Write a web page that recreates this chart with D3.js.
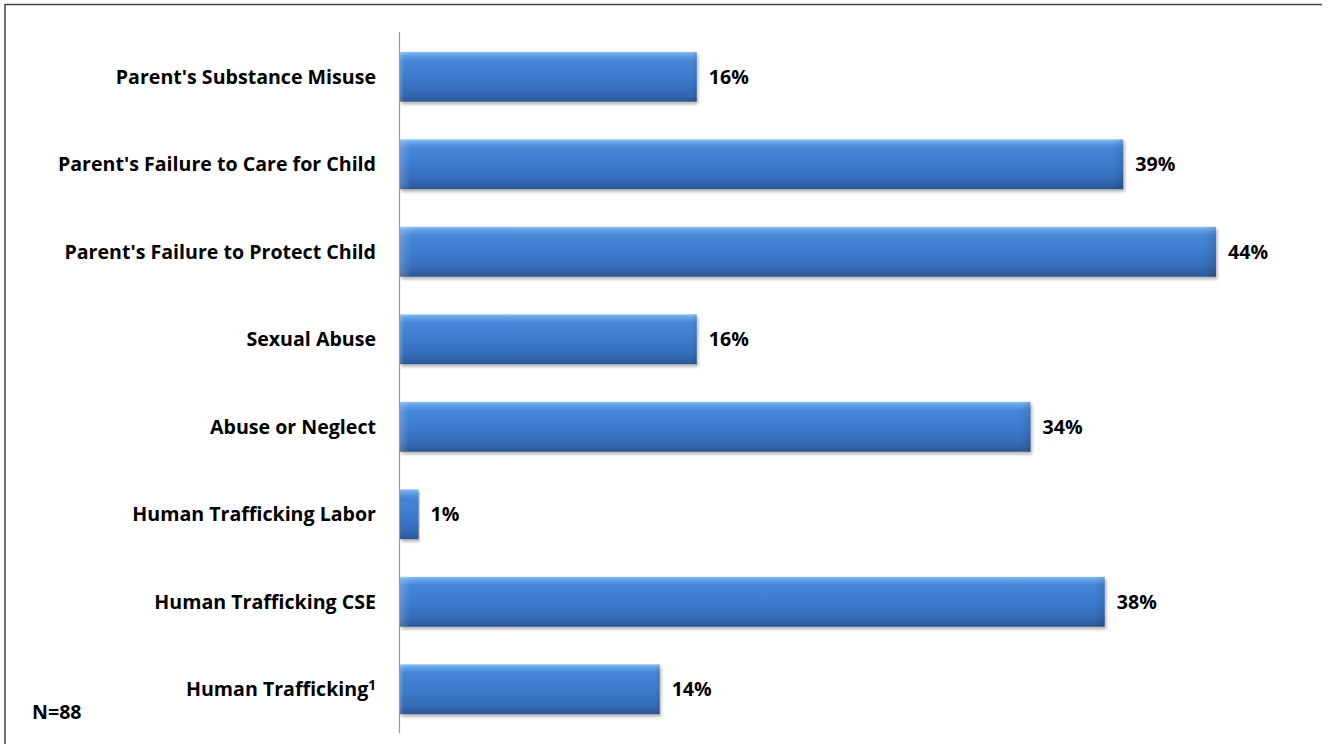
<!DOCTYPE html>
<html>
<head>
<meta charset="utf-8">
<script src="https://cdn.jsdelivr.net/npm/d3@7"></script>
<style>
  html, body { margin: 0; padding: 0; background: #fff; }
  svg { display: block; }
  text { font-family: "Open Sans", "Lato", sans-serif; font-weight: 700; fill: #000; }
</style>
</head>
<body>
<svg id="chart" width="1331" height="744"></svg>
<script>
// Reasons for removal, share of youth (N=88)
const categories = [
  "Parent's Substance Misuse",
  "Parent's Failure to Care for Child",
  "Parent's Failure to Protect Child",
  "Sexual Abuse",
  "Abuse or Neglect",
  "Human Trafficking Labor",
  "Human Trafficking CSE",
  "Human Trafficking"
];
const percents = [16, 39, 44, 16, 34, 1, 38, 14];
const footnotes = ["", "", "", "", "", "", "", "1"];
const sampleNote = "N=88";

const svg = d3.select("#chart");
const H = 744;
const fontSize = "19.6px";

// Frame lines (top and left)
svg.append("line").attr("x1", 5).attr("x2", 1322).attr("y1", 4.5).attr("y2", 4.5)
  .attr("stroke", "#444").attr("stroke-width", 1.5);
svg.append("line").attr("x1", 5).attr("x2", 5).attr("y1", 4).attr("y2", H)
  .attr("stroke", "#444").attr("stroke-width", 1.5);

const x0 = 400;
const x = d3.scaleLinear().domain([0, 44]).range([x0, 1216]);
const y = d3.scaleBand().domain(categories).range([33, 733]).paddingInner(0.43).paddingOuter(0.215);

const defs = svg.append("defs");
const grad = defs.append("linearGradient").attr("id", "barFill")
  .attr("x1", 0).attr("y1", 0).attr("x2", 0).attr("y2", 1);
[[0, "#8cc0f2"], [0.06, "#65a4e8"], [0.17, "#4687d8"], [0.55, "#3c7acb"], [0.85, "#3468b3"], [1, "#2a5692"]]
  .forEach(([o, c]) => grad.append("stop").attr("offset", o).attr("stop-color", c));
const side = defs.append("linearGradient").attr("id", "barSide")
  .attr("x1", 0).attr("y1", 0).attr("x2", 1).attr("y2", 0);
side.append("stop").attr("offset", 0).attr("stop-color", "#ffffff").attr("stop-opacity", 0.18);
side.append("stop").attr("offset", 0.015).attr("stop-color", "#ffffff").attr("stop-opacity", 0);
side.append("stop").attr("offset", 0.985).attr("stop-color", "#000000").attr("stop-opacity", 0);
side.append("stop").attr("offset", 1).attr("stop-color", "#000000").attr("stop-opacity", 0.12);
const shadow = defs.append("filter").attr("id", "barShadow")
  .attr("x", "-5%").attr("y", "-20%").attr("width", "110%").attr("height", "150%");
shadow.append("feDropShadow").attr("dx", 1.5).attr("dy", 2.5).attr("stdDeviation", 1.8)
  .attr("flood-color", "#000").attr("flood-opacity", 0.3);

const rows = categories.map((c, i) => ({ c, v: percents[i], f: footnotes[i] }));

const bars = svg.append("g");
bars.selectAll("rect.bar").data(rows).join("rect").attr("class", "bar")
  .attr("x", x(0)).attr("y", d => y(d.c))
  .attr("width", d => x(d.v) - x(0)).attr("height", y.bandwidth())
  .attr("fill", "url(#barFill)").attr("filter", "url(#barShadow)");
bars.selectAll("rect.side").data(rows).join("rect").attr("class", "side")
  .attr("x", x(0)).attr("y", d => y(d.c))
  .attr("width", d => x(d.v) - x(0)).attr("height", y.bandwidth())
  .attr("fill", "url(#barSide)");

// Category axis line
svg.append("line").attr("x1", x0 - 0.5).attr("x2", x0 - 0.5).attr("y1", 32).attr("y2", 733)
  .attr("stroke", "#999").attr("stroke-width", 1.2);

// Category labels
const lab = svg.append("g").selectAll("text").data(rows).join("text")
  .attr("x", 376).attr("y", d => y(d.c) + y.bandwidth() / 2).attr("dy", "0.36em")
  .attr("text-anchor", "end").style("font-size", fontSize);
lab.append("tspan").text(d => d.c);
lab.filter(d => d.f).append("tspan").attr("dy", "-0.45em").style("font-size", "13.5px").text(d => d.f);

// Value labels
svg.append("g").selectAll("text").data(rows).join("text")
  .attr("x", d => x(d.v) + 12).attr("y", d => y(d.c) + y.bandwidth() / 2).attr("dy", "0.36em")
  .style("font-size", fontSize).text(d => d.v + "%");

svg.append("text").attr("x", 32).attr("y", 719).style("font-size", fontSize).text(sampleNote);
</script>
</body>
</html>
